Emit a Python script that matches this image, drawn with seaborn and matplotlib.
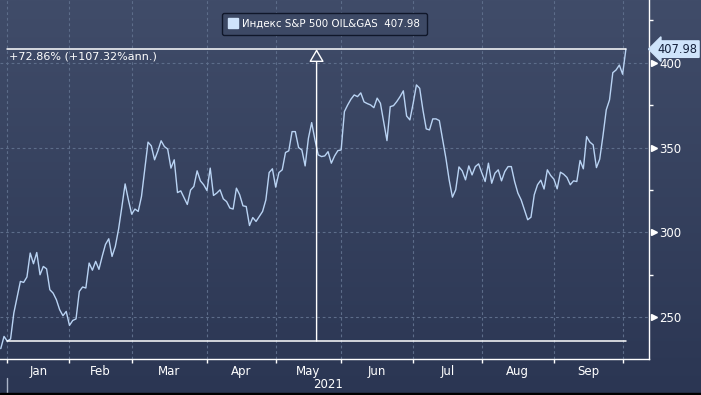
import numpy as np
import pandas as pd
import matplotlib
matplotlib.use("Agg")
import matplotlib.pyplot as plt
import matplotlib.transforms as mtransforms
from matplotlib.lines import Line2D
from matplotlib.patches import Rectangle
import seaborn as sns

# NYSE trading days, 30 Dec 2020 .. 4 Oct 2021
holidays = ["2021-01-01", "2021-01-18", "2021-02-15", "2021-04-02",
            "2021-05-31", "2021-07-05", "2021-09-06"]
dates = pd.bdate_range("2020-12-30", "2021-10-04", freq="C", holidays=holidays)

# index closes (one per trading day)
values = [
    231.6, 238.8, 236.02, 237.3, 252.6, 262.0, 271.2, 270.6, 273.8, 287.9,
    281.6, 288.2, 275.1, 280.0, 278.6, 266.3, 264.3, 260.4, 254.5, 251.0,
    253.5, 245.3, 248.2, 249.1, 265.3, 267.9, 267.3, 282.0, 277.8, 283.0,
    278.3, 286.0, 293.0, 296.3, 285.9, 291.8, 302.0, 315.0, 328.6, 319.2,
    310.8, 313.8, 312.4, 321.2, 337.0, 353.2, 351.0, 342.8, 348.0, 354.0,
    350.6, 349.1, 337.9, 342.8, 323.5, 324.5, 320.5, 316.5, 325.0, 327.1,
    336.3, 330.4, 328.1, 324.7, 337.9, 321.8, 323.2, 325.1, 319.8, 318.2,
    314.4, 313.8, 326.1, 322.2, 315.7, 315.3, 304.1, 308.8, 306.5, 309.4,
    312.4, 319.2, 335.3, 337.5, 326.7, 335.3, 336.9, 347.1, 348.1, 359.4,
    359.4, 350.0, 348.6, 339.2, 355.5, 364.7, 354.5, 345.7, 344.7, 345.1,
    347.6, 340.8, 345.1, 348.2, 348.6, 371.2, 375.1, 378.5, 381.0, 380.0,
    382.2, 376.9, 375.9, 375.1, 373.5, 379.1, 376.1, 365.0, 354.1, 374.1,
    374.7, 377.1, 380.0, 383.4, 368.6, 366.3, 376.0, 386.9, 384.9, 372.0,
    361.0, 360.4, 366.9, 366.9, 365.9, 355.0, 343.8, 331.0, 320.8, 325.1,
    338.6, 336.3, 331.0, 339.2, 333.9, 338.8, 340.4, 335.0, 330.0, 340.8,
    329.0, 334.9, 336.9, 330.4, 335.9, 338.8, 338.8, 330.0, 323.2, 319.2,
    313.4, 307.5, 309.0, 322.2, 328.1, 330.8, 325.6, 336.9, 333.6, 331.4,
    325.7, 335.5, 334.3, 332.4, 328.1, 330.4, 330.0, 342.4, 337.5, 356.5,
    353.2, 351.6, 338.2, 343.2, 357.0, 372.2, 378.1, 394.1, 395.7, 398.6,
    393.2, 407.98,
]
assert len(values) == len(dates)

series_name = "Индекс S&P 500 OIL&GAS"
change_text = "+72.86% (+107.32%ann.)"
y_major = [250, 300, 350, 400]
y_minor = [275, 325, 375, 425]
year_label = "2021"

BG_TOP = "#404c69"
BG_BOTTOM = "#2b3653"
LINE = "#b9d3f3"
GRID = "#5d6d8a"

sns.set_theme(style="dark")
plt.rcParams["font.family"] = ["DejaVu Sans"]

df = pd.DataFrame({"date": dates, "value": values})
df["pos"] = np.arange(len(df))

# first trading day of each month (Jan..Oct) and month centres for labels
month_start = df.groupby(df["date"].dt.to_period("M"))["pos"].min()
month_start = month_start[month_start.index >= pd.Period("2021-01", "M")]
starts = month_start.values
mids = (starts[:-1] + starts[1:]) / 2
month_names = [p.strftime("%b") for p in month_start.index[:-1]]

fig = plt.figure(figsize=(7.01, 3.95), dpi=100)

# background gradient for whole figure
bg = fig.add_axes([0, 0, 1, 1], zorder=-5)
grad = np.linspace(0, 1, 256).reshape(-1, 1)
cmap = matplotlib.colors.LinearSegmentedColormap.from_list("bg", [BG_TOP, BG_BOTTOM])
bg.imshow(grad, aspect="auto", cmap=cmap, extent=[0, 1, 0, 1])
bg.set_axis_off()

ax = fig.add_axes([0, 36 / 395, 649 / 701, 359 / 395])
ax.set_facecolor("none")

sns.lineplot(data=df, x="pos", y="value", ax=ax, color=LINE, linewidth=1.0)

x_left = -0.229
x_right = 198.06
ax.set_xlim(x_left, x_right)
ax.set_ylim(225.5, 436.9)

# grid
ax.set_xticks(starts)
ax.set_xticklabels([])
ax.set_xticks(mids, minor=True)
ax.set_xticklabels(month_names, minor=True)
ax.set_yticks(y_major)
ax.set_yticks(y_minor, minor=True)
ax.grid(which="major", color=GRID, linestyle=(0, (2.5, 2.5)), linewidth=0.8)
ax.grid(which="minor", visible=False)

for side in ["left", "top"]:
    ax.spines[side].set_visible(False)
for side in ["bottom", "right"]:
    ax.spines[side].set_color("white")
    ax.spines[side].set_linewidth(1.0)

ax.yaxis.tick_right()
ax.tick_params(axis="y", which="major", length=0, pad=7.5,
               labelsize=8.5, labelcolor="white")
ax.tick_params(axis="y", which="minor", length=3.2, width=1,
               color="white", direction="out")
ax.tick_params(axis="x", which="major", length=3, width=1,
               color="white", direction="out", bottom=True)
ax.tick_params(axis="x", which="minor", length=0, pad=4.5,
               labelsize=8.5, labelcolor="white", bottom=True)
ax.set_xlabel("")
ax.set_ylabel("")

# little pointers beside the y labels
ytrans = mtransforms.blended_transform_factory(ax.transAxes, ax.transData)
ax.plot([1 + 5 / 649] * len(y_major), y_major, ls="none", marker=">",
        ms=4.5, color="white", transform=ytrans, clip_on=False)

# year label and separator
xtrans = mtransforms.blended_transform_factory(ax.transData, ax.transAxes)
ax.text((starts[0] + x_right) / 2, -0.07, year_label, transform=xtrans,
        ha="center", va="center", color="white", fontsize=8.5)
ax.plot([starts[0], starts[0]], [-0.053, -0.095], transform=xtrans,
        color="#aab4c8", lw=1, clip_on=False)

# range measurement lines
p0, p1 = starts[0], df["pos"].iloc[-1]
v0, v1 = df["value"].iloc[p0], df["value"].iloc[-1]
ax.plot([p0, p1], [v0, v0], color="white", lw=1.1)
ax.plot([p0, p1], [v1, v1], color="white", lw=1.1)
mid = (p0 + p1) / 2
ax.annotate("", xy=(mid, v1), xytext=(mid, v0),
            arrowprops=dict(arrowstyle="-|>,head_length=0.65,head_width=0.38",
                            ec="white", fc="#3e4a66", lw=1.0,
                            shrinkA=0, shrinkB=0))
ax.annotate(change_text, xy=(p0, v1), xytext=(1.5, -2),
            textcoords="offset points", ha="left", va="top",
            color="white", fontsize=8)

# last value tag
ax.annotate(f"{v1:.2f}", xy=(1, v1), xycoords=ytrans,
            xytext=(6, 0), textcoords="offset points", ha="left", va="center",
            fontsize=8.3, color="#14203a", annotation_clip=False,
            bbox=dict(boxstyle="larrow,pad=0.15", fc="#cfe4fb", ec="#cfe4fb"))

# legend
handle = Line2D([], [], ls="none", marker="s", ms=7.5, color="#cfe3fb")
leg = ax.legend([handle], [f"{series_name}  {v1:.2f}"], loc="upper center",
                bbox_to_anchor=(0.5, 1 - 12.7 / 359), borderaxespad=0,
                fontsize=7.4, frameon=True, fancybox=True, framealpha=1,
                facecolor="#3d4965", edgecolor="#10172a",
                handlelength=0.9, handletextpad=0.45, borderpad=0.62)
leg.get_frame().set_linewidth(1.0)
for t in leg.get_texts():
    t.set_color("white")

fig.add_artist(Rectangle((0, 0), 1, 2.5 / 395, transform=fig.transFigure,
                         color="black", zorder=10))

fig.savefig("out.png", dpi=100)
